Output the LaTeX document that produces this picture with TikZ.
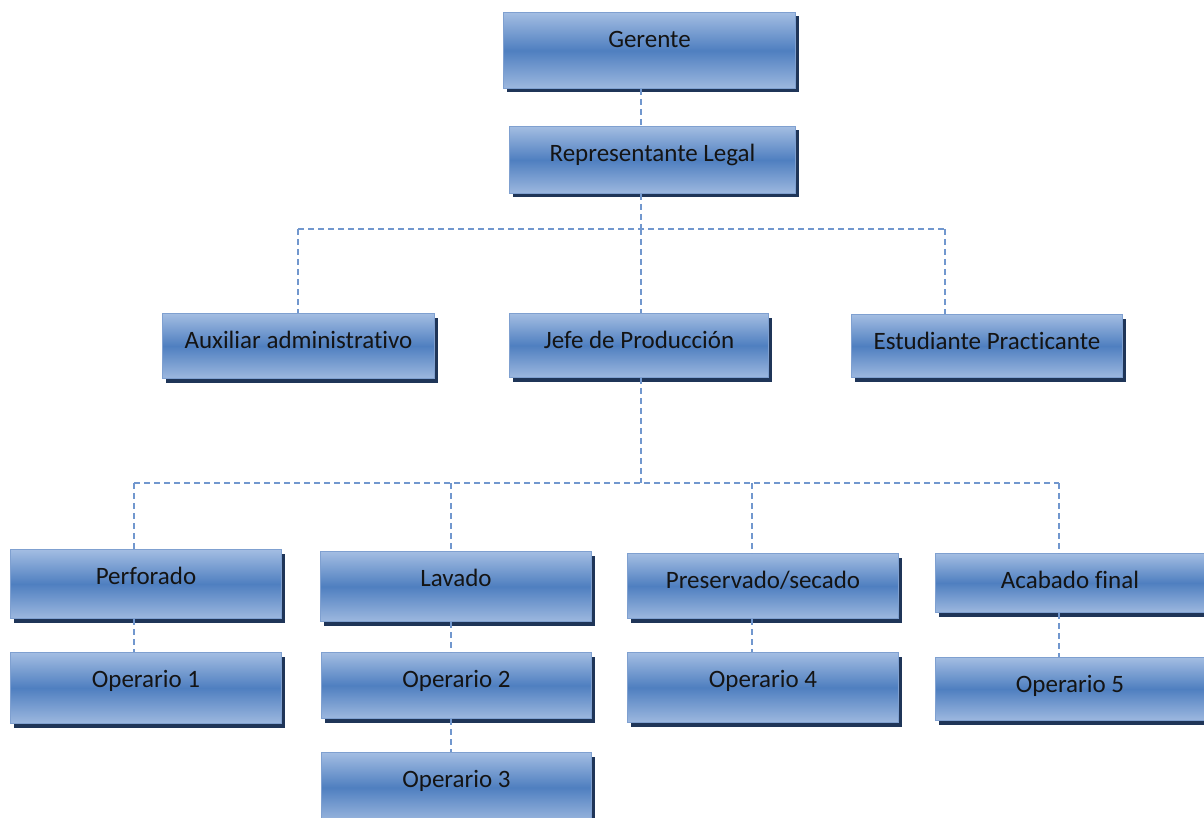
\documentclass[tikz,border=0pt]{standalone}
\usepackage{fontspec}
\setmainfont{Carlito}[Ligatures=NoCommon]
\usetikzlibrary{shadows}
\definecolor{boxtop}{HTML}{A3BDE2}
\definecolor{boxmid}{HTML}{4F7FC0}
\definecolor{boxbot}{HTML}{9DB8DF}
\definecolor{boxline}{HTML}{7FA0D0}
\definecolor{shadowc}{HTML}{1F3558}
\definecolor{linkc}{HTML}{7197CE}
\tikzset{
  orgbox/.style={draw=boxline, line width=1pt, inner sep=0pt, anchor=north west,
    top color=boxtop, bottom color=boxbot, middle color=boxmid,
    font=\fontsize{25}{29}\selectfont, text=black!92,
    text height=35pt,
    general shadow={fill=shadowc, shadow xshift=3pt, shadow yshift=-4pt}},
  link/.style={draw=linkc, line width=2.2pt, dash pattern=on 6pt off 4pt}
}
\newcommand{\orgnode}[7]{% name, x, y, w, h, depth, text
  \node[orgbox, minimum width=#4pt, minimum height=#5pt, text depth=#6pt] (#1) at (#2,#3) {#7};}
\begin{document}
\begin{tikzpicture}[x=1pt,y=-1pt]
\useasboundingbox (0,0) rectangle (1204,818);
\orgnode{ger}{503}{12}{292}{76}{41}{Gerente}
\orgnode{rep}{509}{126}{286}{67}{32}{Representante Legal}
\orgnode{aux}{162}{313}{272}{65}{30}{Auxiliar administrativo}
\orgnode{jefe}{509}{313}{259}{64}{29}{Jefe de Producción}
\orgnode{est}{851}{314}{271}{63}{28}{Estudiante Practicante}
\orgnode{perf}{10}{549}{271}{69}{34}{Perforado}
\orgnode{lav}{320}{551}{271}{70}{35}{Lavado}
\orgnode{pres}{627}{553}{271}{65}{30}{Preservado/secado}
\orgnode{acab}{935}{553}{269}{59}{24}{Acabado final}
\orgnode{op1}{10}{652}{271}{71}{36}{Operario 1}
\orgnode{op2}{321}{652}{270}{66}{31}{Operario 2}
\orgnode{op3}{321}{752}{270}{70}{35}{Operario 3}
\orgnode{op4}{627}{652}{271}{70}{35}{Operario 4}
\orgnode{op5}{935}{657}{269}{63}{28}{Operario 5}
% bus coordinates
\coordinate (b1) at (641,229);
\coordinate (b1l) at (298,229);
\coordinate (b1r) at (945,229);
\coordinate (b2) at (641,483);
\coordinate (b2a) at (134,483);
\coordinate (b2b) at (451,483);
\coordinate (b2c) at (752,483);
\coordinate (b2d) at (1059,483);
\draw[link] (ger.south -| b1) -- (rep.north -| b1);
\draw[link] (rep.south -| b1) -- (b1);
\draw[link] (b1l) -- (b1r);
\draw[link] (b1l) -- (aux.north -| b1l);
\draw[link] (b1) -- (jefe.north -| b1);
\draw[link] (b1r) -- (est.north -| b1r);
\draw[link] (jefe.south -| b2) -- (b2);
\draw[link] (b2a) -- (b2d);
\draw[link] (b2a) -- (perf.north -| b2a);
\draw[link] (b2b) -- (lav.north -| b2b);
\draw[link] (b2c) -- (pres.north -| b2c);
\draw[link] (b2d) -- (acab.north -| b2d);
\draw[link] (perf.south -| b2a) -- (op1.north -| b2a);
\draw[link] (lav.south -| b2b) -- (op2.north -| b2b);
\draw[link] (op2.south -| b2b) -- (op3.north -| b2b);
\draw[link] (pres.south -| b2c) -- (op4.north -| b2c);
\draw[link] (acab.south -| b2d) -- (op5.north -| b2d);
\end{tikzpicture}
\end{document}
